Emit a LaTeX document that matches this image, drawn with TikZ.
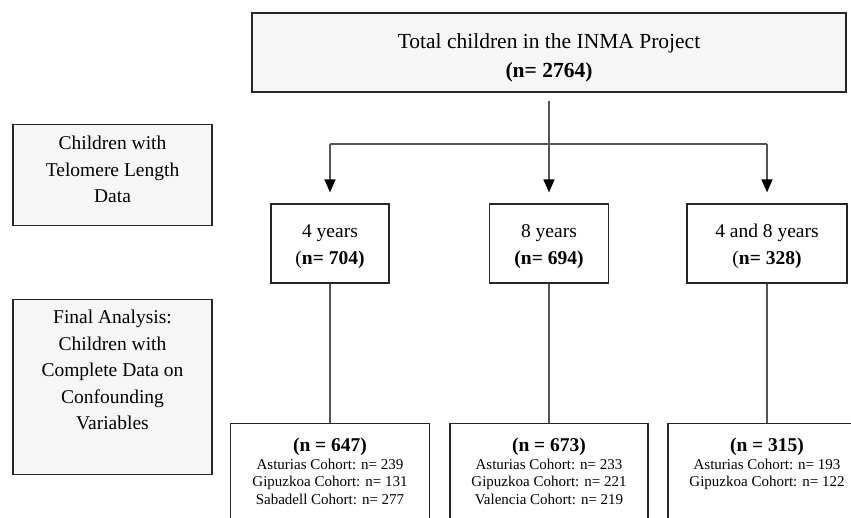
\documentclass[tikz,border=0pt]{standalone}
\usepackage{fontspec}
\setmainfont{Liberation Serif}
\usetikzlibrary{arrows.meta}

\definecolor{boxgrey}{HTML}{F6F6F6}
\definecolor{linegrey}{HTML}{555555}

\tikzset{
  box/.style={draw=black!85, line width=1.2pt, fill=white, align=center,
    inner sep=0pt, font=\fontsize{19.5}{26.5}\selectfont},
  greybox/.style={box, fill=boxgrey},
  topset/.style={anchor=north, inner xsep=0pt},
  cohort/.style={box, topset, inner ysep=14.5pt, text depth=80pt,
    font=\fontsize{15}{17.5}\selectfont},
  conn/.style={draw=linegrey, line width=1.3pt},
  arr/.style={conn, -{Triangle[width=11pt,length=13pt,fill=black,color=black]}, shorten >=11pt},
}
\newcommand{\nbold}[1]{{\fontsize{19.5}{26.5}\selectfont\bfseries #1}}

\begin{document}
\begin{tikzpicture}[x=1pt, y=-1pt]
\useasboundingbox (0,0) rectangle (851,517);
\clip (0,0) rectangle (851,517);

% Total cohort
\node[greybox, minimum width=594, minimum height=79, text height=54pt, font=\fontsize{21.5}{29}\selectfont]
  (total) at (549,52.5) {Total children in the INMA Project\\ \textbf{(n= 2764)}};

% Captions on the left
\node[greybox, topset, minimum width=199, inner ysep=11.5pt, text depth=11.7pt]
  (tlcap) at (112.5,124) {Children with\\ Telomere Length\\ Data};
\node[greybox, topset, minimum width=199, inner ysep=10.5pt, text depth=34.7pt]
  (finalcap) at (112.5,299) {Final Analysis:\\ Children with\\ Complete Data on\\ Confounding\\ Variables};

% Telomere length groups
\node[box, minimum width=118, minimum height=79, text height=45.5pt] (y4) at (330,243.5) {4 years\\ (\textbf{n= 704)}};
\node[box, minimum width=119, minimum height=79, text height=45.5pt] (y8) at (549,243.5) {8 years\\ \textbf{(n= 694)}};
\node[box, minimum width=160, minimum height=79, text height=45.5pt] (y48) at (767,243.5) {4 and 8 years\\ (\textbf{n= 328)}};

% Final analysis by cohort
\node[cohort, minimum width=199] (f4) at (330,423)
  {\nbold{(n = 647)}\\ Asturias Cohort: n= 239\\ Gipuzkoa Cohort: n= 131\\ Sabadell Cohort: n= 277};
\node[cohort, minimum width=198] (f8) at (549,423)
  {\nbold{(n = 673)}\\ Asturias Cohort: n= 233\\ Gipuzkoa Cohort: n= 221\\ Valencia Cohort: n= 219};
\node[cohort, minimum width=198] (f48) at (767,423)
  {\nbold{(n = 315)}\\ Asturias Cohort: n= 193\\ Gipuzkoa Cohort: n= 122};

% Split into the three groups
\coordinate (split) at (549,144);
\coordinate (b4) at (y4 |- split);
\coordinate (b48) at (y48 |- split);
\draw[arr, shorten <=8pt] (total) -- (y8);
\draw[conn] (b4) -- (b48);
\draw[arr] (b4) -- (y4);
\draw[arr] (b48) -- (y48);

% Down to the final samples
\foreach \a/\b in {y4/f4, y8/f8, y48/f48}
  \draw[conn] (\a) -- (\b);

\end{tikzpicture}
\end{document}
